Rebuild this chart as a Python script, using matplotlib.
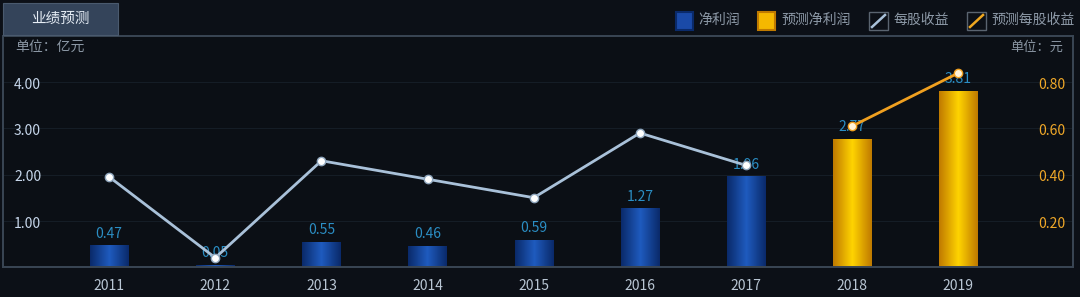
import numpy as np
import matplotlib
matplotlib.use("Agg")
import matplotlib.pyplot as plt
import matplotlib.transforms as mtrans
from matplotlib.patches import Rectangle
from matplotlib.colors import LinearSegmentedColormap

plt.rcParams['font.family'] = ['Noto Sans CJK SC', 'DejaVu Sans']

years = ['2011', '2012', '2013', '2014', '2015', '2016', '2017', '2018', '2019']
profit = [0.47, 0.05, 0.55, 0.46, 0.59, 1.27, 1.96, 2.77, 3.81]
forecast_flag = [0, 0, 0, 0, 0, 0, 0, 1, 1]
eps = [0.39, 0.04, 0.46, 0.38, 0.30, 0.58, 0.44]
eps_forecast = [0.61, 0.84]
left_ticks = [1.0, 2.0, 3.0, 4.0]
right_ticks = [0.2, 0.4, 0.6, 0.8]

BG = '#0c1017'
W, H = 1080, 297
fig = plt.figure(figsize=(W / 100, H / 100), dpi=100, facecolor=BG)

x0, x1, y0, y1 = 3, 1073, 36, 267
ax = fig.add_axes([x0 / W, 1 - y1 / H, (x1 - x0) / W, (y1 - y0) / H])
ax.set_facecolor('#0b0f15')
ax2 = ax.twinx()

for a in (ax, ax2):
    for s in a.spines.values():
        s.set_color('#3a4654')
        s.set_linewidth(1.2)
    a.tick_params(length=0)

# grid
for t in left_ticks:
    ax.axhline(t, color='#151d26', lw=0.8, zorder=0)

ax.set_yticks([])
ax2.set_yticks([])
tl = mtrans.blended_transform_factory(fig.transFigure, ax.transData)
tr = mtrans.blended_transform_factory(fig.transFigure, ax2.transData)
for t in left_ticks:
    ax.text(14 / W, t - 0.06, f'{t:.2f}', transform=tl, color='#c6d6ea', fontsize=10,
            va='center', ha='left')
for t in right_ticks:
    ax2.text(1065 / W, t - 0.012, f'{t:.2f}', transform=tr, color='#f0a828', fontsize=10,
             va='center', ha='right')

ax.set_xticks(range(len(years)))
ax.set_xticklabels(years, color='#b9c6d4', fontsize=10)
ax.tick_params(axis='x', pad=9)

# bars with horizontal gradient
blue_cm = LinearSegmentedColormap.from_list('b', ['#0a2a6a', '#1f5bbf', '#0a2a6a'])
gold_cm = LinearSegmentedColormap.from_list('g', ['#c07a00', '#ffd400', '#c07a00'])
grad = np.linspace(0, 1, 64).reshape(1, -1)
bw = 0.36
for i, v in enumerate(profit):
    cm = gold_cm if forecast_flag[i] else blue_cm
    rect = Rectangle((i - bw / 2, 0), bw, v, facecolor='none', edgecolor='none')
    ax.add_patch(rect)
    im = ax.imshow(grad, cmap=cm, aspect='auto', extent=(i - bw / 2, i + bw / 2, 0, v), zorder=2)
    im.set_clip_path(rect)
    ax.text(i, v + 0.1, f'{v:.2f}', color='#2b8ec4', fontsize=10, ha='center', va='bottom', zorder=3)

# eps lines
ax2.plot(range(len(eps)), eps, color='#a9c1d9', lw=2, zorder=4,
         marker='o', ms=6, mfc='white', mec='#8fa6bd', mew=1)
ax2.plot(range(7, 7 + len(eps_forecast)), eps_forecast, color='#f0a020', lw=2, zorder=4,
         marker='o', ms=6, mfc='#fff3d8', mec='#f0a020', mew=1)

ax.set_xlim(-1.0, 9.08)
ax.set_ylim(0, 5)
ax2.set_ylim(0, 1.0)

# unit labels
fig.text(15 / W, 1 - 47 / H, '单位：亿元', color='#8a96a3', fontsize=10, va='center', ha='left')
fig.text(1063 / W, 1 - 47 / H, '单位：元', color='#8a96a3', fontsize=9.5, va='center', ha='right')

# tab
tab = Rectangle((3 / W, 1 - 35 / H), 115 / W, 32 / H, transform=fig.transFigure,
                facecolor='#34445a', edgecolor='#4a5a6e', lw=0.8)
fig.patches.append(tab)
fig.text(60 / W, 1 - 19 / H, '业绩预测', color='#e6edf5', fontsize=10.5, va='center', ha='center')

# legend
def sq(x, c_edge, c_mid):
    r = Rectangle((x / W, 1 - 30 / H), 17 / W, 18 / H, transform=fig.transFigure,
                  facecolor=c_mid, edgecolor=c_edge, lw=1.5)
    fig.patches.append(r)

def ln(x, c):
    r = Rectangle((x / W, 1 - 30 / H), 19 / W, 18 / H, transform=fig.transFigure,
                  facecolor='none', edgecolor='#5a6470', lw=1)
    fig.patches.append(r)
    fig.lines.append(plt.Line2D([(x + 3) / W, (x + 16) / W], [1 - 27 / H, 1 - 15 / H],
                                transform=fig.transFigure, color=c, lw=1.8))

sq(676, '#0a2a6a', '#1a4aa8')
fig.text(698 / W, 1 - 20 / H, '净利润', color='#8e9aa8', fontsize=10, va='center')
sq(758, '#c07a00', '#f5b800')
fig.text(781 / W, 1 - 20 / H, '预测净利润', color='#8e9aa8', fontsize=10, va='center')
ln(869, '#a9c1d9')
fig.text(893 / W, 1 - 20 / H, '每股收益', color='#8e9aa8', fontsize=10, va='center')
ln(967, '#f0a820')
fig.text(991 / W, 1 - 20 / H, '预测每股收益', color='#8e9aa8', fontsize=10, va='center')

fig.savefig('out.png', dpi=100, facecolor=BG)
